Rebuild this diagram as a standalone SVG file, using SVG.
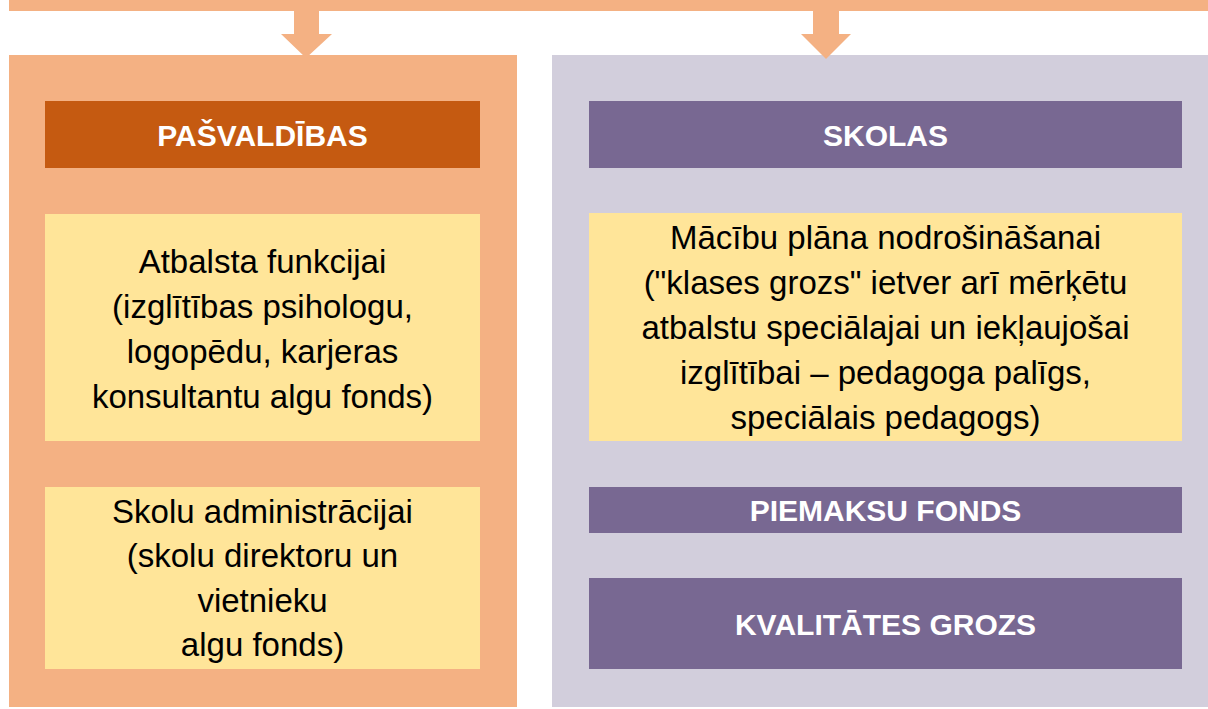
<svg xmlns="http://www.w3.org/2000/svg" width="1208" height="709" viewBox="0 0 1208 709">
  <style>
    .body { font-family: "Liberation Sans", Arial, sans-serif; font-size: 33px; fill: #000000; text-anchor: middle; }
    .head { font-family: "Liberation Sans", Arial, sans-serif; font-size: 30px; font-weight: bold; fill: #ffffff; text-anchor: middle; }
    .orange { fill: #F4B183; }
    .lav { fill: #D2CEDC; }
    .yellow { fill: #FFE599; }
    .purple { fill: #786892; }
    .rust { fill: #C55A11; }
  </style>
  <rect x="0" y="0" width="1208" height="709" fill="#ffffff"/>

  <g id="panel-left">
    <rect class="orange" x="9" y="55" width="508" height="652"/>
  </g>
  <g id="panel-right">
    <rect class="lav" x="552" y="55" width="656" height="652"/>
  </g>

  <g id="connectors">
    <rect class="orange" x="9" y="0" width="1199" height="11"/>
    <polygon class="orange" points="294,11 319,11 319,34 332,34 306,58 281,34 294,34"/>
    <polygon class="orange" points="813,11 839,11 839,34 851,34 826,59 801,34 813,34"/>
  </g>

  <g id="pasvaldibas">
    <rect class="rust" x="45" y="101" width="435" height="67"/>
    <text class="head" x="262.5" y="146">PAŠVALDĪBAS</text>
  </g>

  <g id="atbalsta">
    <rect class="yellow" x="45" y="214" width="435" height="227"/>
    <text class="body" x="262.5" y="273">Atbalsta funkcijai</text>
    <text class="body" x="262.5" y="318">(izglītības psihologu,</text>
    <text class="body" x="262.5" y="363">logopēdu, karjeras</text>
    <text class="body" x="262.5" y="408">konsultantu algu fonds)</text>
  </g>

  <g id="administracija">
    <rect class="yellow" x="45" y="487" width="435" height="182"/>
    <text class="body" x="262.5" y="523">Skolu administrācijai</text>
    <text class="body" x="262.5" y="567">(skolu direktoru un</text>
    <text class="body" x="262.5" y="612">vietnieku</text>
    <text class="body" x="262.5" y="656">algu fonds)</text>
  </g>

  <g id="skolas">
    <rect class="purple" x="589" y="101" width="593" height="67"/>
    <text class="head" x="885.5" y="146">SKOLAS</text>
  </g>

  <g id="macibu-plans">
    <rect class="yellow" x="589" y="213" width="593" height="228"/>
    <text class="body" x="885.5" y="249">Mācību plāna nodrošināšanai</text>
    <text class="body" x="885.5" y="294">("klases grozs" ietver arī mērķētu</text>
    <text class="body" x="885.5" y="339">atbalstu speciālajai un iekļaujošai</text>
    <text class="body" x="885.5" y="384">izglītībai – pedagoga palīgs,</text>
    <text class="body" x="885.5" y="429">speciālais pedagogs)</text>
  </g>

  <g id="piemaksu-fonds">
    <rect class="purple" x="589" y="487" width="593" height="46"/>
    <text class="head" x="885.5" y="521">PIEMAKSU FONDS</text>
  </g>

  <g id="kvalitates-grozs">
    <rect class="purple" x="589" y="578" width="593" height="91"/>
    <text class="head" x="885.5" y="635">KVALITĀTES GROZS</text>
  </g>
</svg>
